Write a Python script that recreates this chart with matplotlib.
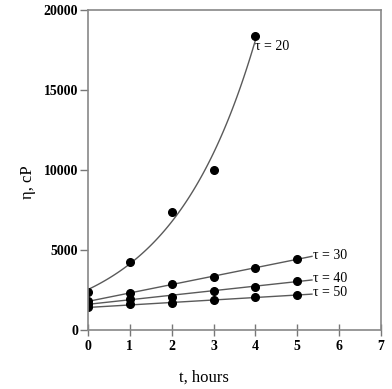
import numpy as np
import matplotlib
matplotlib.use("Agg")
import matplotlib.pyplot as plt

plt.rcParams['font.family'] = ['Liberation Serif', 'DejaVu Serif']

# data (viscosity in cP vs time in hours)
t20 = [0, 1, 2, 3, 4]
eta20 = [2400, 4250, 7400, 10000, 18400]

t_long = [0, 1, 2, 3, 4, 5]
eta30 = [1800, 2300, 2850, 3330, 3850, 4460]
eta40 = [1600, 1950, 2080, 2460, 2710, 3060]
eta50 = [1400, 1600, 1670, 1850, 2040, 2190]

labels = ['τ = 20', 'τ = 30', 'τ = 40', 'τ = 50']
x_ticks = [0, 1, 2, 3, 4, 5, 6, 7]
y_ticks = [0, 5000, 10000, 15000, 20000]

fig = plt.figure(figsize=(3.92, 3.89), dpi=100)
ax = fig.add_axes([0.2245, 0.152, 0.7475, 0.822])

line_col = '#5a5a5a'

# exponential fit for tau = 20 (least squares in linear space)
k, b = np.polyfit(t20, np.log(eta20), 1, w=np.array(eta20, dtype=float))
tt = np.linspace(0, 4.0, 100)
ax.plot(tt, np.exp(b + k * tt), color=line_col, lw=1.0)
ax.plot(t20, eta20, 'o', color='black', ms=5.5)
ax.text(3.98, 17750, labels[0], fontsize=10, va='center', ha='left')

# straight-line fits for the others
for vals, lab in zip([eta30, eta40, eta50], labels[1:]):
    m, c = np.polyfit(t_long, vals, 1)
    tl = np.array([0, 5.35])
    ax.plot(tl, m * tl + c, color=line_col, lw=1.0)
    ax.plot(t_long, vals, 'o', color='black', ms=5.5)
    ax.text(5.38, m * 5.35 + c + 80, lab, fontsize=10, va='center', ha='left')

ax.set_xlim(0, 7)
ax.set_ylim(0, 20000)
ax.set_xticks(x_ticks)
ax.set_yticks(y_ticks)
ax.tick_params(axis='x', direction='inout', length=9, width=1, color='#777777',
               pad=3, labelsize=10)
ax.tick_params(axis='y', direction='out', length=6, width=1, color='#777777',
               pad=1, labelsize=10)
for lbl in ax.get_xticklabels() + ax.get_yticklabels():
    lbl.set_fontweight('bold')

for s in ax.spines.values():
    s.set_color('#888888')
    s.set_linewidth(1.2)

ax.set_xlabel('t, hours', fontsize=12, va='center')
ax.xaxis.set_label_coords(0.394, -0.15)
ax.set_ylabel('η, cP', fontsize=12, va='center')
ax.yaxis.set_label_coords(-0.205, 0.4625)

fig.savefig('out.png', dpi=100)
